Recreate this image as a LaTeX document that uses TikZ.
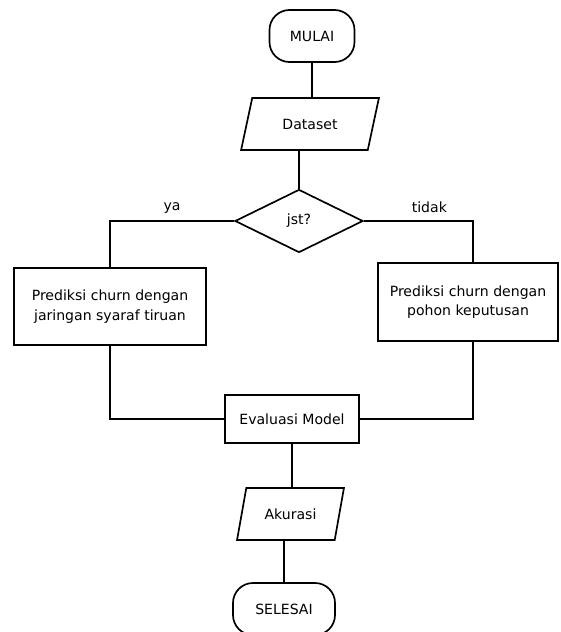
\documentclass[tikz,border=0pt]{standalone}
\usepackage{fontspec}
\setmainfont{DejaVu Sans}
\usetikzlibrary{shapes.geometric,positioning}

\begin{document}
\begin{tikzpicture}[
			x=0.025cm,y=-0.025cm,
			every node/.style={
				font=\fontsize{10}{14}\selectfont,
				inner sep=2pt
			},
			terminal/.style={
				draw,
				rounded corners=0.5cm,
				line width=1.2pt,
				minimum width=2.125cm,
				minimum height=1.3cm
			},
			data/.style={
				draw,
				trapezium,
				trapezium left angle=70,
				trapezium right angle=110,
				trapezium stretches=true,
				line width=1.2pt,
				minimum height=1.3cm
			},
			process/.style={
				draw,
				line width=1.2pt,
				align=center
			},
			decision/.style={
				draw,
				diamond,
				inner sep=0pt,
				line width=1.2pt,
				minimum width=3.2cm,
				minimum height=1.575cm
			},
			line/.style={
				draw,
				line width=1.2pt
			}
			]
			\useasboundingbox[fill=white] (0,0) rectangle (560,632);

			% alur atas
			\node[terminal] (mulai) at (312,36) {MULAI};
			\node[data,minimum width=3.45cm] (dataset) at (310,124) {Dataset};
			\node[decision] (jst) at (299,221) {jst?};

			% dua metode prediksi
			\node[process,minimum width=4.8cm,minimum height=1.925cm] (jstbox) at (110,306.5)
			{Prediksi churn dengan\\jaringan syaraf tiruan};
			\node[process,minimum width=4.5cm,minimum height=1.95cm] (pkbox) at (468,302)
			{Prediksi churn dengan\\pohon keputusan};

			% alur bawah
			\node[process,minimum width=3.35cm,minimum height=1.2cm] (eval) at (292,419) {Evaluasi Model};
			\node[data,minimum width=2.675cm] (akurasi) at (290.5,514) {Akurasi};
			\node[terminal,minimum width=2.55cm] (selesai) at (284,609) {SELESAI};

			\draw[line] (mulai.south) -- (mulai.south |- dataset.north);
			\draw[line] (jst.north |- dataset.south) -- (jst.north);
			\draw[line] (jst.west) -| (jstbox.north)
				node[pos=0.25,above=3pt] {ya};
			\draw[line] (jst.east) -| ([xshift=0.125cm]pkbox.north)
				node[pos=0.3,above=3pt] {tidak};
			\draw[line] (jstbox.south) |- (eval.west);
			\draw[line] ([xshift=0.125cm]pkbox.south) |- (eval.east);
			\draw[line] (eval.south) -- (eval.south |- akurasi.north);
			\draw[line] (selesai.north |- akurasi.south) -- (selesai.north);

		\end{tikzpicture}
\end{document}
